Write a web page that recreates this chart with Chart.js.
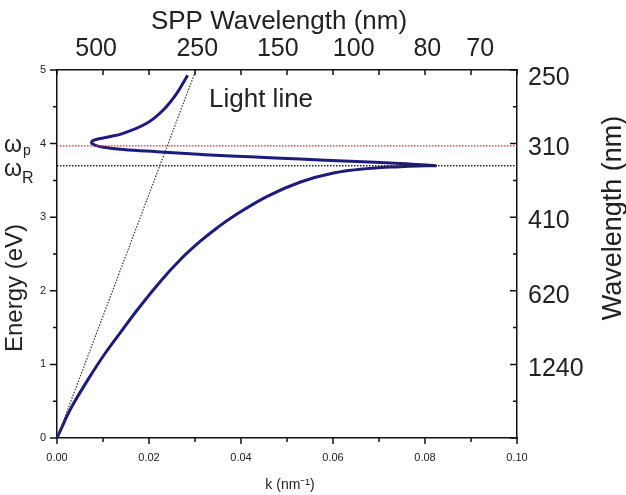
<!DOCTYPE html>
<html><head><meta charset="utf-8">
<script src="https://cdn.jsdelivr.net/npm/chart.js@4/dist/chart.umd.min.js"></script>
<style>html,body{margin:0;padding:0;background:#fff}#wrap{width:626px;height:495px}</style>
</head><body><div id="wrap"><canvas id="c" width="626" height="495"></canvas></div>
<script>
// ---- data ----
const lowerK = [0, 0.0016, 0.0032, 0.0068, 0.0104, 0.0141, 0.0177, 0.0228, 0.0270, 0.0311, 0.0347, 0.0383, 0.0456, 0.0528, 0.0601, 0.0673, 0.0746, 0.0800, 0.0822];
const lowerE = [0, 0.22, 0.425, 0.80, 1.145, 1.46, 1.76, 2.15, 2.435, 2.67, 2.85, 3.01, 3.28, 3.475, 3.60, 3.66, 3.687, 3.698, 3.70];
const upperK = [0.0746, 0.0637, 0.0528, 0.0420, 0.0333, 0.0289, 0.0217, 0.0144, 0.0101, 0.0082, 0.0075, 0.0082, 0.0108, 0.0144, 0.0195, 0.0231, 0.0260, 0.0284];
const upperE = [3.73, 3.76, 3.79, 3.82, 3.845, 3.863, 3.89, 3.92, 3.95, 3.98, 4.01, 4.05, 4.086, 4.14, 4.276, 4.457, 4.68, 4.93];
const omegaP = 3.97;
const omegaR = 3.70;
const lightK = [0, 0.0302];
const lightE = [0, 5];
const bottomTickK = [0, 0.02, 0.04, 0.06, 0.08, 0.10];
const leftTickE = [0, 1, 2, 3, 4, 5];
const topTickLabels = ['500', '250', '150', '100', '80', '70'];
const topTickK = [0.0085, 0.0305, 0.0480, 0.0645, 0.0805, 0.0920];
const rightTickLabels = ['1240', '620', '410', '310', '250'];
const rightTickE = [1, 2, 3.02, 4, 4.96];

const sppCurve = lowerK.map((k, i) => ({x: k, y: lowerE[i]}))
  .concat(upperK.map((k, i) => ({x: k, y: upperE[i]})));
const lightLine = lightK.map((k, i) => ({x: k, y: lightE[i]}));
const pLine = [{x: 0, y: omegaP}, {x: 0.1, y: omegaP}];
const rLine = [{x: 0, y: omegaR}, {x: 0.1, y: omegaR}];

const FONT = 'Arial, "Liberation Sans", sans-serif';
const INK = '#222';

const decor = {
  id: 'decor',
  afterDraw(chart) {
    const ctx = chart.ctx;
    const {x, y} = chart.scales;
    const a = chart.chartArea;
    ctx.save();
    ctx.strokeStyle = '#111';
    ctx.lineWidth = 1.5;
    ctx.beginPath();
    for (let i = 0; i <= 10; i++) {
      const px = x.getPixelForValue(i / 100);
      const len = i % 2 === 0 ? 6 : 4;
      ctx.moveTo(px, a.bottom); ctx.lineTo(px, a.bottom + len);
      ctx.moveTo(px, a.top); ctx.lineTo(px, a.top + 5);
    }
    for (let i = 0; i <= 10; i++) {
      const py = y.getPixelForValue(i / 2);
      const len = i % 2 === 0 ? 7 : 4;
      ctx.moveTo(a.left, py); ctx.lineTo(a.left - len, py);
      ctx.moveTo(a.right, py); ctx.lineTo(a.right - len, py);
    }
    ctx.stroke();
    ctx.fillStyle = INK;
    ctx.textAlign = 'center';
    ctx.textBaseline = 'middle';
    ctx.font = '26px ' + FONT;
    ctx.fillText('SPP Wavelength (nm)', 279, 22);
    ctx.save();
    ctx.font = '27px ' + FONT;
    ctx.translate(614, 218); ctx.rotate(-Math.PI / 2);
    ctx.fillText('Wavelength (nm)', 0, 0);
    ctx.restore();
    ctx.save();
    ctx.font = '24px ' + FONT;
    ctx.translate(15, 288); ctx.rotate(-Math.PI / 2);
    ctx.fillText('Energy (eV)', 0, 0);
    ctx.restore();
    ctx.font = '14px ' + FONT;
    ctx.fillText('k (nm\u207B\u00B9)', 290, 485);
    ctx.textAlign = 'left';
    ctx.textBaseline = 'alphabetic';
    ctx.font = '26px ' + FONT;
    ctx.fillText('Light line', 209, 107);
    ctx.font = '23px ' + FONT;
    ctx.fillText('\u03C9', 4, 152);
    ctx.fillText('\u03C9', 4, 176);
    ctx.font = '14px ' + FONT;
    ctx.fillText('p', 23, 155);
    ctx.font = '16px ' + FONT;
    ctx.fillText('R', 22, 183);
    ctx.restore();
  }
};

new Chart(document.getElementById('c'), {
  type: 'scatter',
  data: {
    datasets: [
      {data: lightLine, showLine: true, borderColor: '#333', borderWidth: 1.2, borderDash: [1.5, 1.5], pointRadius: 0},
      {data: pLine, showLine: true, borderColor: '#e03030', borderWidth: 1.3, borderDash: [1.5, 1.5], pointRadius: 0},
      {data: rLine, showLine: true, borderColor: '#222', borderWidth: 1.6, borderDash: [1.5, 1.5], pointRadius: 0},
      {data: sppCurve, showLine: true, borderColor: '#1d1b7c', borderWidth: 3, tension: 0.4, pointRadius: 0, clip: false}
    ]
  },
  options: {
    responsive: false,
    animation: false,
    devicePixelRatio: 1,
    layout: {padding: 0},
    plugins: {legend: {display: false}, tooltip: {enabled: false}},
    scales: {
      x: {
        type: 'linear', position: 'bottom', min: 0, max: 0.1,
        afterBuildTicks: s => { s.ticks = bottomTickK.map(v => ({value: v})); },
        afterFit: s => { s.height = 57; },
        ticks: {autoSkip: false, maxRotation: 0, padding: 13, color: INK, font: {size: 11, family: FONT},
          callback: v => Number(v).toFixed(2)},
        grid: {display: false, drawTicks: false},
        border: {color: '#111', width: 1.5}
      },
      x2: {
        type: 'linear', position: 'top', min: 0, max: 0.1,
        afterBuildTicks: s => { s.ticks = topTickK.map(v => ({value: v})); },
        afterFit: s => { s.height = 70; },
        ticks: {autoSkip: false, maxRotation: 0, padding: 6, color: INK, font: {size: 25, family: FONT},
          callback: (v, i) => topTickLabels[i]},
        grid: {display: false, drawTicks: false},
        border: {color: '#111', width: 1.5}
      },
      y: {
        type: 'linear', position: 'left', min: 0, max: 5,
        afterBuildTicks: s => { s.ticks = leftTickE.map(v => ({value: v})); },
        afterFit: s => { s.width = 57; },
        ticks: {autoSkip: false, padding: 11, color: INK, font: {size: 11, family: FONT},
          callback: v => String(v)},
        grid: {display: false, drawTicks: false},
        border: {color: '#111', width: 1.5}
      },
      y2: {
        type: 'linear', position: 'right', min: 0, max: 5,
        afterBuildTicks: s => { s.ticks = rightTickE.map(v => ({value: v})); },
        afterFit: s => { s.width = 109; },
        ticks: {autoSkip: false, padding: 11, labelOffset: 5, color: INK, font: {size: 25, family: FONT},
          callback: (v, i) => rightTickLabels[i]},
        grid: {display: false, drawTicks: false},
        border: {color: '#111', width: 1.5}
      }
    }
  },
  plugins: [decor]
});
</script>
</body></html>
